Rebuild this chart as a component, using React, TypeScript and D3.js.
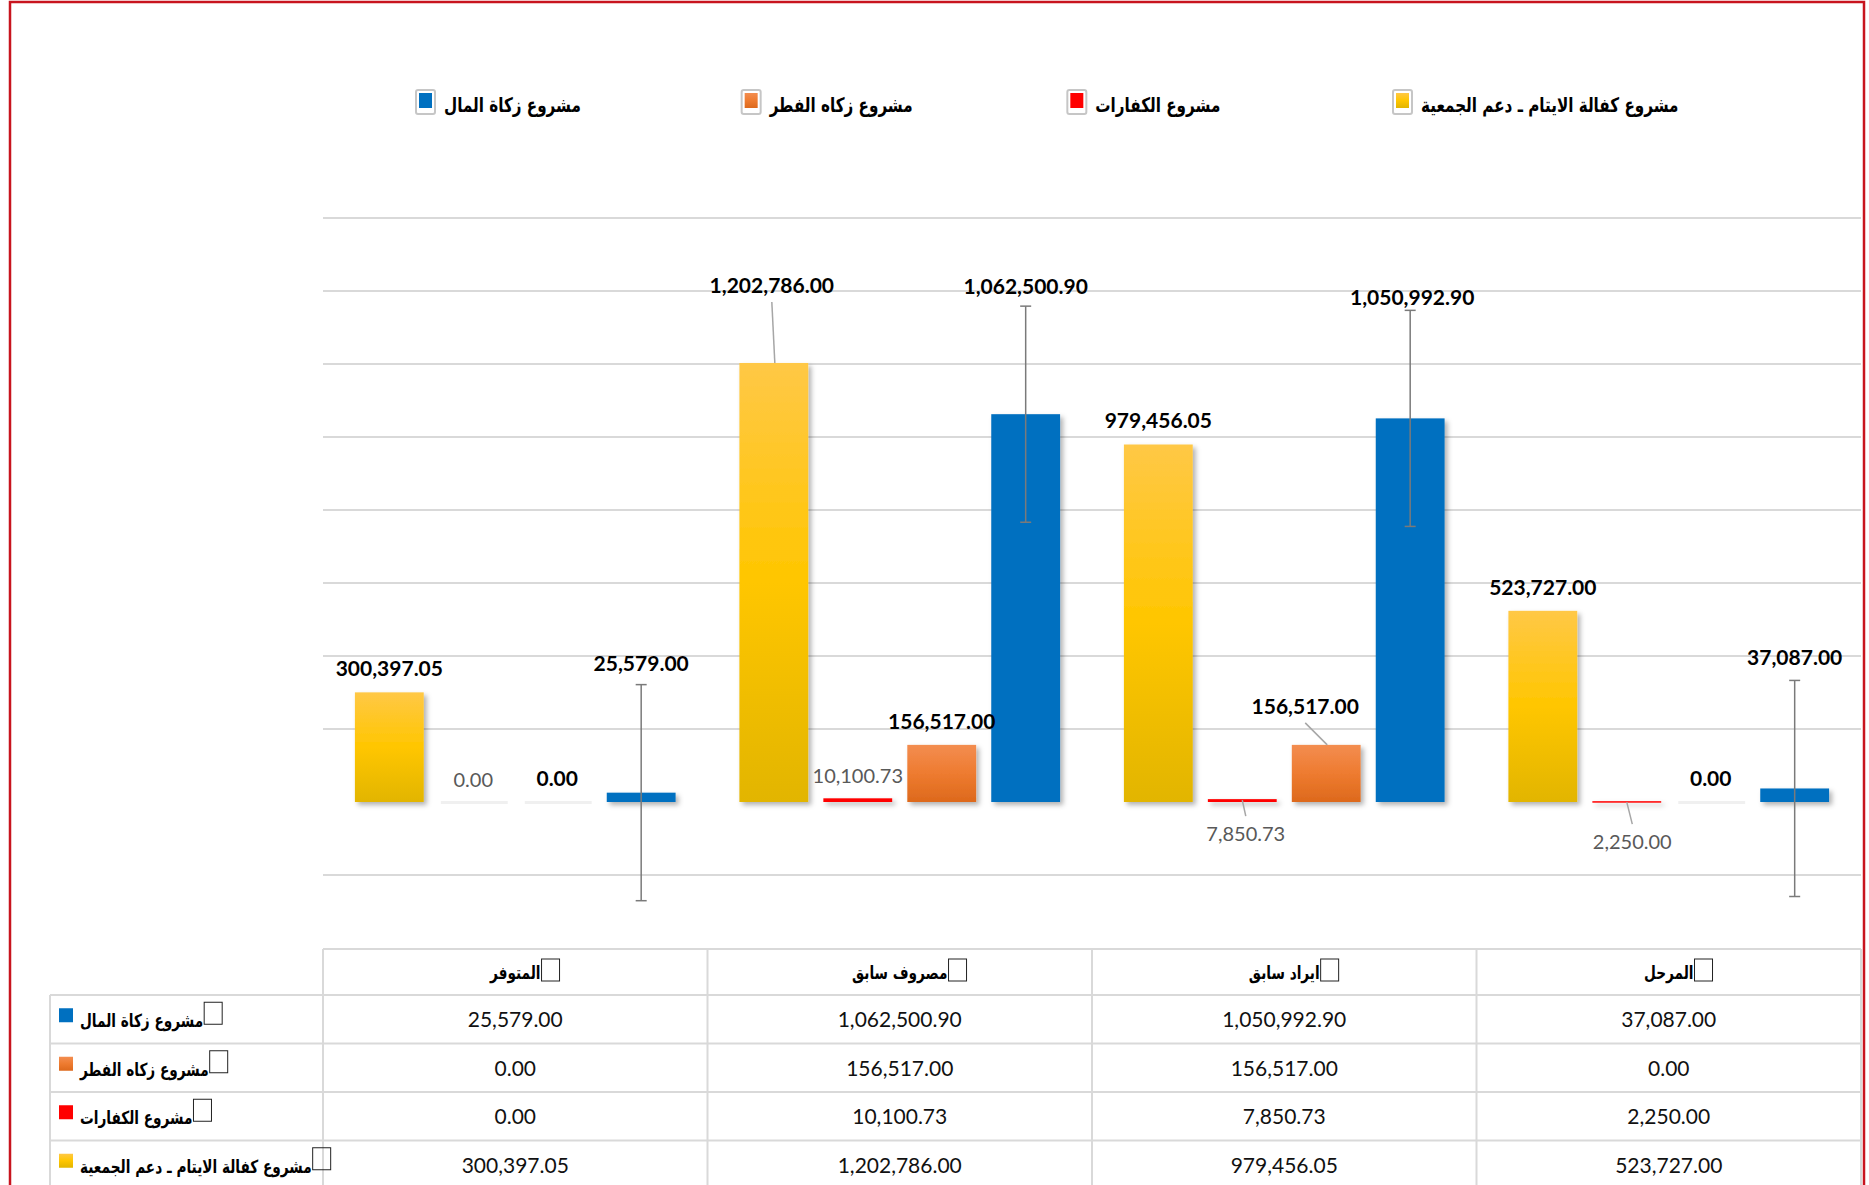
import React, { useEffect, useRef } from "react";
import * as d3 from "d3";

const categories = ["المتوفر", "مصروف سابق", "ايراد سابق", "المرحل"];
const seriesNames = [
  "مشروع كفالة الايتام ـ دعم الجمعية",
  "مشروع الكفارات",
  "مشروع زكاه الفطر",
  "مشروع زكاة المال",
];
const orphanValues = [300397.05, 1202786.0, 979456.05, 523727.0];
const kafaratValues = [0.0, 10100.73, 7850.73, 2250.0];
const fitrValues = [0.0, 156517.0, 156517.0, 0.0];
const zakatValues = [25579.0, 1062500.9, 1050992.9, 37087.0];
const yTicks = [-200000, 0, 200000, 400000, 600000, 800000, 1000000, 1200000, 1400000, 1600000];
const zakatError = 296000; // standard error bars on the zakat series
const legendOrder = [3, 2, 1, 0]; // left to right
const tableOrder = [3, 2, 1, 0]; // top to bottom

const seriesValues = [orphanValues, kafaratValues, fitrValues, zakatValues];
const seriesFill = ["url(#gYellow)", "#FF0000", "url(#gOrange)", "#0070C0"];

// labels Excel moved by hand (category-series)
const labelNudge = {
  "1-0": { dx: -2, dy: -54, leader: true },
  "2-2": { dx: -21, dy: -15, leader: true },
  "2-1": { dx: 3.5, dy: 57, leader: true, below: true },
  "3-1": { dx: 5.5, dy: 63, leader: true, below: true },
  "2-3": { dx: 2, dy: 7 },
  "0-3": { dx: 0, dy: -2 },
  "3-3": { dx: 0, dy: -3 },
};

const W = 1869, H = 1185;
const arabicFont = "'DejaVu Sans', sans-serif";
const numFont = "Lato, 'Open Sans', sans-serif";
const arabicSqueeze = 0.76; // the original arabic face is much narrower

const drawChart = (node) => {
  const svg = d3.select(node);
  svg.selectAll("*").remove();
  const fmt = d3.format(",.2f");

  const defs = svg.append("defs");
  const grad = (id, stops) => {
    const g = defs.append("linearGradient").attr("id", id)
      .attr("x1", 0).attr("y1", 0).attr("x2", 0).attr("y2", 1);
    stops.forEach(([o, c]) => g.append("stop").attr("offset", o).attr("stop-color", c));
  };
  grad("gYellow", [[0, "#FFC846"], [0.5, "#FFC600"], [1, "#E2B500"]]);
  grad("gOrange", [[0, "#F38D50"], [0.5, "#EE7B30"], [1, "#DD691C"]]);
  const f = defs.append("filter").attr("id", "shadow").attr("filterUnits", "userSpaceOnUse")
    .attr("x", 0).attr("y", 0).attr("width", W).attr("height", H);
  f.append("feDropShadow").attr("dx", 3).attr("dy", 3).attr("stdDeviation", 2.5)
    .attr("flood-color", "#000").attr("flood-opacity", 0.3);

  svg.append("rect").attr("width", W).attr("height", H).attr("fill", "#fff");

  const x0 = d3.scaleBand().domain(categories).range([323, 1861]);
  const x1 = d3.scaleBand().domain(d3.range(seriesNames.length)).range([0, x0.bandwidth()])
    .paddingInner(0.18).paddingOuter(0.38);
  const y = d3.scaleLinear().domain([yTicks[0], yTicks[yTicks.length - 1]]).range([875, 218]);

  // gridlines (no line at zero in the original)
  svg.append("g").selectAll("line")
    .data(yTicks.filter(t => t !== 0))
    .enter().append("line")
    .attr("x1", x0.range()[0]).attr("x2", x0.range()[1])
    .attr("y1", d => y(d)).attr("y2", d => y(d))
    .attr("stroke", "#d9d9d9").attr("stroke-width", 2);

  // bars
  const bars = [];
  categories.forEach((c, ci) => {
    seriesValues.forEach((vals, si) => {
      bars.push({ c, ci, si, v: vals[ci], cx: x0(c) + x1(si) + x1.bandwidth() / 2 });
    });
  });

  const barG = svg.append("g");
  barG.selectAll("rect.zero")
    .data(bars.filter(d => d.v === 0))
    .enter().append("rect")
    .attr("x", d => x0(d.c) + x1(d.si) + 2)
    .attr("y", y(0) - 1)
    .attr("width", x1.bandwidth() - 2)
    .attr("height", 3)
    .attr("fill", "#f0f0f0");

  barG.selectAll("rect.bar")
    .data(bars.filter(d => d.v !== 0))
    .enter().append("rect")
    .attr("x", d => x0(d.c) + x1(d.si))
    .attr("y", d => y(Math.max(d.v, 0)))
    .attr("width", x1.bandwidth())
    .attr("height", d => Math.max(1.5, Math.abs(y(d.v) - y(0))))
    .attr("fill", d => seriesFill[d.si])
    .attr("filter", "url(#shadow)");

  // error bars on zakat series
  const errG = svg.append("g").attr("stroke", "#7a7a7a").attr("stroke-width", 1.5);
  bars.filter(d => d.si === 3).forEach(d => {
    const top = y(d.v + zakatError), bot = y(d.v - zakatError);
    errG.append("line").attr("x1", d.cx).attr("x2", d.cx).attr("y1", top).attr("y2", bot);
    errG.append("line").attr("x1", d.cx - 5.5).attr("x2", d.cx + 5.5).attr("y1", top).attr("y2", top);
    errG.append("line").attr("x1", d.cx - 5.5).attr("x2", d.cx + 5.5).attr("y1", bot).attr("y2", bot);
  });

  // data labels
  const labG = svg.append("g");
  bars.forEach(d => {
    const key = `${d.ci}-${d.si}`;
    const n = labelNudge[key] || { dx: 0, dy: 0 };
    const barTop = y(Math.max(d.v, 0));
    let base = d.si === 3 ? y(d.v + zakatError) - 12 : barTop - (d.si === 1 ? 15 : 16);
    base += n.dy;
    const lx = d.cx + n.dx;
    if (n.leader) {
      if (n.below) {
        labG.append("line").attr("x1", d.cx).attr("y1", barTop + 1)
          .attr("x2", lx).attr("y2", base - 25)
          .attr("stroke", "#a6a6a6").attr("stroke-width", 1.5);
      } else {
        labG.append("line").attr("x1", lx).attr("y1", base + 9)
          .attr("x2", d.cx + 1).attr("y2", barTop)
          .attr("stroke", "#a6a6a6").attr("stroke-width", 1.5);
      }
    }
    labG.append("text")
      .attr("x", lx).attr("y", base)
      .attr("text-anchor", "middle")
      .attr("font-family", numFont)
      .attr("font-size", d.si === 1 ? 20 : 21)
      .attr("font-weight", d.si === 1 ? 400 : 700)
      .attr("fill", d.si === 1 ? "#595959" : "#000")
      .text(fmt(d.v));
  });

  // squeezed arabic text, returns right edge in page coords
  const arabicText = (parent, x, yb, size, label, anchor) => {
    const g = parent.append("g").attr("transform", `translate(${x},${yb}) scale(${arabicSqueeze},1)`);
    const t = g.append("text").attr("x", 0).attr("y", 0)
      .attr("text-anchor", anchor)
      .attr("font-family", arabicFont).attr("font-weight", 700).attr("font-size", size)
      .attr("fill", "#000").text(label);
    const bb = t.node().getBBox();
    return x + (bb.x + bb.width) * arabicSqueeze;
  };

  // legend
  const legendX = d3.scalePoint().domain(legendOrder).range([416, 1393]);
  const legG = svg.append("g");
  legendOrder.forEach(s => {
    const lx = legendX(s);
    legG.append("rect").attr("x", lx).attr("y", 90).attr("width", 19).attr("height", 24).attr("rx", 2)
      .attr("fill", "#fff").attr("stroke", "#c6c6c6").attr("stroke-width", 2);
    legG.append("rect").attr("x", lx + 3).attr("y", 93).attr("width", 13).attr("height", 15)
      .attr("fill", seriesFill[s]);
    arabicText(legG, lx + 28, 112, 20, seriesNames[s], "start");
  });

  // data table
  const tab = svg.append("g");
  const headTop = 949, rowTop = 995, rowH = 48.5;
  const rowY = d3.scaleBand().domain(tableOrder).range([rowTop, rowTop + rowH * tableOrder.length]);
  const colEdges = [...categories.map(c => x0(c)), x0.range()[1]];
  const grid = "#d9d9d9";

  tab.append("line").attr("x1", colEdges[0]).attr("x2", colEdges[4]).attr("y1", headTop).attr("y2", headTop)
    .attr("stroke", grid).attr("stroke-width", 2);
  [...tableOrder.map(s => rowY(s)), rowTop + rowH * 4].forEach(yy => {
    tab.append("line").attr("x1", 50).attr("x2", colEdges[4]).attr("y1", yy).attr("y2", yy)
      .attr("stroke", grid).attr("stroke-width", 2);
  });
  tab.append("line").attr("x1", 50).attr("x2", 50).attr("y1", rowTop).attr("y2", H)
    .attr("stroke", grid).attr("stroke-width", 2);
  colEdges.forEach(xx => {
    tab.append("line").attr("x1", xx).attr("x2", xx).attr("y1", headTop).attr("y2", H)
      .attr("stroke", grid).attr("stroke-width", 2);
  });

  const addBox = (xRight, yTop) => {
    tab.append("rect").attr("x", xRight + 1).attr("y", yTop).attr("width", 18).attr("height", 22)
      .attr("fill", "none").attr("stroke", "#222").attr("stroke-width", 1);
  };

  categories.forEach(c => {
    const right = arabicText(tab, x0(c) + x0.bandwidth() / 2, 979, 18, c, "middle");
    addBox(right, 959);
  });

  tableOrder.forEach(s => {
    const cy = rowY(s) + rowH / 2;
    tab.append("rect").attr("x", 59).attr("y", cy - 11).attr("width", 14).attr("height", 14)
      .attr("fill", seriesFill[s]);
    const right = arabicText(tab, 80, cy + 8, 18, seriesNames[s], "start");
    addBox(right, cy - 17);
    categories.forEach((c, ci) => {
      tab.append("text").attr("x", x0(c) + x0.bandwidth() / 2).attr("y", cy + 8)
        .attr("text-anchor", "middle").attr("font-family", numFont).attr("font-size", 21)
        .attr("fill", "#111").text(fmt(seriesValues[s][ci]));
    });
  });

  // outer red frame
  svg.append("rect").attr("x", 10).attr("y", 2).attr("width", 1854).attr("height", H + 20)
    .attr("fill", "none").attr("stroke", "#C8141E").attr("stroke-width", 2.5);
};

export default function App() {
  const ref = useRef(null);

  useEffect(() => {
    if (ref.current) drawChart(ref.current);
  }, []);

  return (
    <svg ref={ref} width={W} height={H}
      style={{ position: "absolute", left: 0, top: 0, display: "block" }} />
  );
}
